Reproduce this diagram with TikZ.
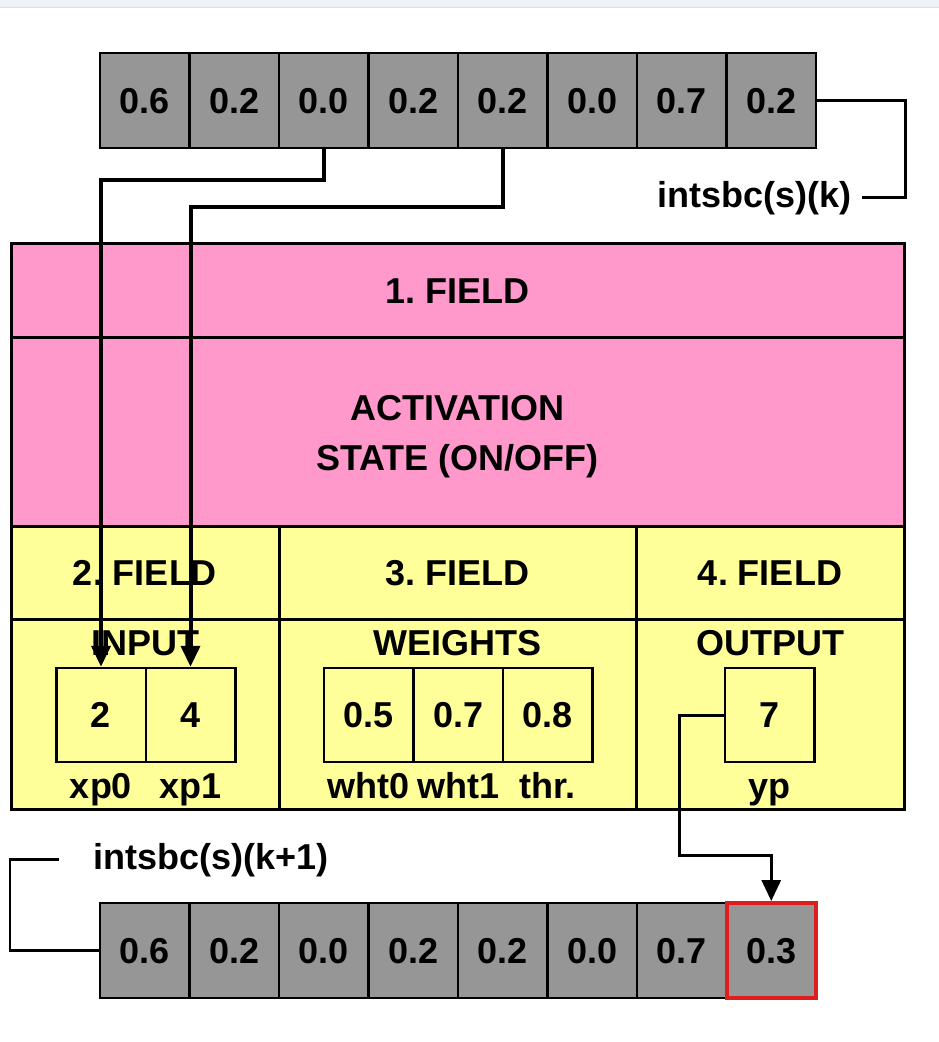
\documentclass[tikz,border=0pt]{standalone}
\usepackage{fontspec}
\setmainfont{Liberation Sans}
\usetikzlibrary{arrows.meta,calc}
\definecolor{cellgray}{RGB}{150,150,150}
\definecolor{fpink}{RGB}{255,153,204}
\definecolor{fyellow}{RGB}{255,255,153}
\definecolor{fred}{RGB}{220,30,30}
\definecolor{bandcol}{RGB}{238,242,246}
\definecolor{bandline}{RGB}{222,224,200}
\newcommand\myfs{\fontsize{36}{50}\selectfont\bfseries}
\frenchspacing
\begin{document}
\begin{tikzpicture}[x=1pt,y=-1pt,
  txt/.style={font=\myfs, inner sep=0pt, anchor=base},
  cell/.style={draw, line width=2.5pt, fill=cellgray, minimum width=89.5pt, minimum height=95pt, inner sep=0pt, text height=25.8pt, text depth=0pt, font=\myfs},
  ybox/.style={draw, line width=2.5pt, fill=fyellow, minimum width=89.5pt, minimum height=94pt, inner sep=0pt, text height=25.8pt, text depth=0pt, font=\myfs},
  field/.style={draw, line width=3pt, inner sep=0pt},
  conn/.style={line width=4pt, -{Triangle[length=21pt,width=19pt]}},
  wire/.style={line width=2.5pt},
  warr/.style={line width=3pt, -{Triangle[length=21pt,width=19pt]}}]
\useasboundingbox (0,0) rectangle (939,1042);
\fill[white] (0,0) rectangle (939,1042);
\fill[bandcol] (0,0) rectangle (939,7);
\draw[bandline, line width=1pt] (0,7.5) -- (939,7.5);

% fields
\node[field, fill=fpink, minimum width=893pt, minimum height=94pt] (f1) at (457.5,290) {};
\node[field, fill=fpink, minimum width=893pt, minimum height=189pt] (act) at (457.5,431.5) {};
\node[field, fill=fyellow, minimum width=268pt, minimum height=93pt] (f2) at (145,572.5) {};
\node[field, fill=fyellow, minimum width=357pt, minimum height=93pt] (f3) at (457.5,572.5) {};
\node[field, fill=fyellow, minimum width=268pt, minimum height=93pt] (f4) at (770,572.5) {};
\node[field, fill=fyellow, minimum width=268pt, minimum height=190pt] (f2b) at (145,714) {};
\node[field, fill=fyellow, minimum width=357pt, minimum height=190pt] (f3b) at (457.5,714) {};
\node[field, fill=fyellow, minimum width=268pt, minimum height=190pt] (f4b) at (770,714) {};

\node[txt] (t1t) at (457.5,303) {1. FIELD};
\node[txt] (actA) at (457.5,420) {ACTIVATION};
\node[txt] (actB) at (457.5,470) {STATE (ON/OFF)};
\node[txt] (f2t) at (145,585) {2. FIELD};
\node[txt] (f3t) at (457.5,585) {3. FIELD};
\node[txt] (f4t) at (770,585) {4. FIELD};
\node[txt] (inp) at (145,655) {INPUT};
\node[txt] (wts) at (457.5,655) {WEIGHTS};
\node[txt] (outp) at (770,655) {OUTPUT};

% sub boxes
\node[ybox] (in0) at (101,715) {2};
\node[ybox] (in1) at (190.5,715) {4};
\node[ybox] (w0) at (368.75,715) {0.5};
\node[ybox] (w1) at (458.25,715) {0.7};
\node[ybox] (w2) at (547.75,715) {0.8};
\node[ybox] (out) at (769.5,715) {7};
\node[txt] (lxp0) at (101,798) {xp0};
\node[txt] (lxp1) at (190.5,798) {xp1};
\node[txt] (lw0) at (368.75,798) {wht0};
\node[txt] (lw1) at (458.25,798) {wht1};
\node[txt] (lw2) at (547.75,798) {thr.};
\node[txt] (lyp) at (769.5,798) {yp};

% arrays
\foreach \v [count=\i] in {0.6,0.2,0.0,0.2,0.2,0.0,0.7,0.2}
  \node[cell] (t\i) at ({100+89.5*(\i-0.5)},100.5) {\v};
\foreach \v [count=\i] in {0.6,0.2,0.0,0.2,0.2,0.0,0.7}
  \node[cell] (b\i) at ({100+89.5*(\i-0.5)},950.5) {\v};
\node[cell, draw=fred, line width=4pt] (b8) at ({100+89.5*7.5},950.5) {0.3};

% labels
\node[txt, anchor=base east, inner xsep=10pt] (lk) at (862,207) {intsbc(s)(k)};
\node[txt, anchor=base west, inner xsep=34pt] (lk1) at (59,869) {intsbc(s)(k+1)};

% connectors
\draw[conn] (t3.south) -- ++(0,31) -| (in0.north);
\draw[conn] (t5.south) -- ++(0,58) -| (in1.north);
\draw[wire] (t8.east) -- ++(88,0) |- (lk.east);
\draw[warr] (out.west) -- ++(-44,0) |- ($(b8.north)+(0,-46)$) -- (b8.north);
\draw[wire] (b1.west) -- ++(-89,0) |- (lk1.west);
\end{tikzpicture}
\end{document}
